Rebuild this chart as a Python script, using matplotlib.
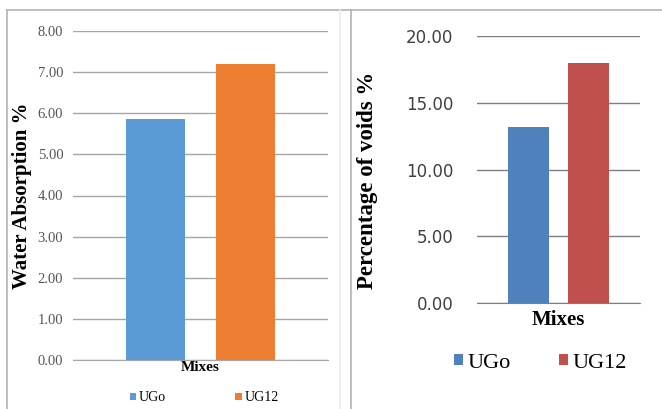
import matplotlib
matplotlib.use("Agg")
import matplotlib.pyplot as plt
from matplotlib.lines import Line2D

# mixes and measured values
mixes = ["UGo", "UG12"]
absorption = [5.85, 7.20]   # water absorption %
voids = [13.2, 18.0]        # percentage of voids %
abs_ticks = [0, 1, 2, 3, 4, 5, 6, 7, 8]
void_ticks = [0, 5, 10, 15, 20]

plt.rcParams['font.family'] = ['Liberation Serif', 'DejaVu Serif']

W, H = 662, 409
fig = plt.figure(figsize=(W / 100, H / 100), dpi=100)

# frame lines round the two panels
for (x0, y0, x1, y1, c) in [(7, 10, 662, 10, '#b4b4b4'), (7, 10, 7, 409, '#b4b4b4'),
                            (351, 10, 351, 409, '#b4b4b4'), (340, 10, 340, 409, '#ececec')]:
    fig.add_artist(Line2D([x0 / W, x1 / W], [1 - y0 / H, 1 - y1 / H], color=c, lw=1.2))


def panel(ax, vals, colors, ticks, width, offset, grid_c):
    for i, (v, c) in enumerate(zip(vals, colors)):
        ax.bar((i * 2 - 1) * offset, v, width=width, color=c, label=mixes[i], zorder=3)
    ax.set_xlim(-0.5, 0.5)
    ax.set_ylim(ticks[0], ticks[-1])
    ax.set_yticks(ticks)
    ax.set_xticks([])
    ax.yaxis.grid(True, color=grid_c, lw=1.0, zorder=0)
    for s in ['top', 'right', 'left']:
        ax.spines[s].set_visible(False)
    ax.spines['bottom'].set_color(grid_c)


# left panel: water absorption
ax1 = fig.add_axes([73 / W, 1 - 360 / H, 255 / W, 329 / H])
panel(ax1, absorption, ['#5b9bd5', '#ed7d31'], abs_ticks, 0.231, 0.1775, '#a6a6a6')
ax1.set_yticklabels(["%.2f" % t for t in abs_ticks], fontsize=10.5, color='#555555')
ax1.tick_params(axis='y', length=0, pad=7)
ax1.set_ylabel("Water Absorption %", fontsize=15, fontweight='bold')
ax1.yaxis.set_label_coords(-0.16, 0.5)
ax1.set_xlabel("Mixes", fontsize=11, fontweight='bold', labelpad=1)
ax1.legend(ncol=2, loc='center', bbox_to_anchor=(0.515, -0.115), frameon=False,
           fontsize=10, handlelength=0.45, handleheight=0.45, handletextpad=0.2,
           columnspacing=5.0)

# right panel: voids
ax2 = fig.add_axes([477 / W, 1 - 303 / H, 163 / W, 267 / H])
panel(ax2, voids, ['#4f81bd', '#c0504d'], void_ticks, 0.252, 0.184, '#7f7f7f')
ax2.set_yticklabels(["%.2f" % t for t in void_ticks], fontsize=12, color='#404040',
                    family='DejaVu Sans')
ax2.tick_params(axis='y', length=0, pad=17)
ax2.set_ylabel("Percentage of voids %", fontsize=16.5, fontweight='bold')
ax2.yaxis.set_label_coords(-0.61, 0.46)
ax2.set_xlabel("Mixes", fontsize=15, fontweight='bold', labelpad=5)
ax2.legend(ncol=2, loc='center', bbox_to_anchor=(0.39, -0.225), frameon=False,
           fontsize=16, handlelength=0.4, handleheight=0.4, handletextpad=0.2,
           columnspacing=2.2)

fig.savefig("out.png", dpi=100)
